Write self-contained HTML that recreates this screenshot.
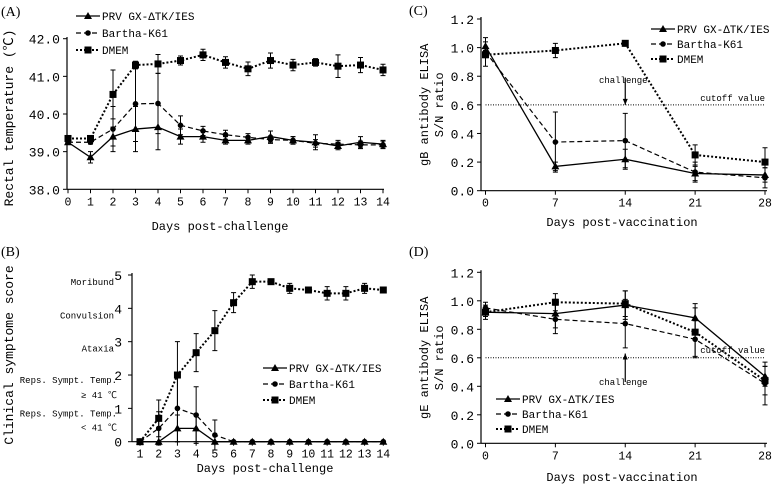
<!DOCTYPE html>
<html><head><meta charset="utf-8"><style>
html,body{margin:0;padding:0;background:#fff;}
svg{display:block;font-family:"Liberation Mono","Noto Sans CJK SC",monospace;}
</style></head><body>
<svg id="fig" width="774" height="485" viewBox="0 0 774 485" xmlns="http://www.w3.org/2000/svg"></svg>
<script>
// Panel A
const daysA=[0,1,2,3,4,5,6,7,8,9,10,11,12,13,14];
const prvA=[39.25,38.85,39.4,39.6,39.65,39.4,39.4,39.3,39.3,39.4,39.3,39.25,39.15,39.25,39.2];
const prvAErr=[0.05,0.15,0.25,0.6,0.6,0.2,0.15,0.1,0.1,0.15,0.1,0.2,0.1,0.15,0.1];
const barA=[39.25,39.25,39.6,40.27,40.28,39.7,39.55,39.45,39.38,39.32,39.3,39.22,39.2,39.18,39.18];
const barAErr=[0.05,0.05,0.6,1.0,0.8,0.25,0.12,0.12,0.1,0.1,0.1,0.1,0.1,0.1,0.1];
const dmemA=[39.35,39.35,40.52,41.3,41.33,41.42,41.57,41.37,41.2,41.42,41.3,41.37,41.27,41.3,41.17];
const dmemAErr=[0.05,0.05,0.65,0.1,0.25,0.12,0.15,0.15,0.18,0.2,0.15,0.1,0.3,0.2,0.15];
const ticksAY=["38.0","39.0","40.0","41.0","42.0"];
// Panel B
const daysB=[1,2,3,4,5,6,7,8,9,10,11,12,13,14];
const prvB=[0,0,0.4,0.4,0,0,0,0,0,0,0,0,0,0];
const prvBErr=[0,0,0.4,0.4,0,0,0,0,0,0,0,0,0,0];
const barB=[0,0.4,1.0,0.8,0.2,0,0,0,0,0,0,0,0,0];
const barBErr=[0,0.5,1.0,0.85,0.45,0,0,0,0,0,0,0,0,0];
const dmemB=[0,0.7,2.0,2.67,3.33,4.17,4.8,4.8,4.6,4.55,4.45,4.45,4.6,4.55];
const dmemBErr=[0,0.55,1.0,0.57,0.6,0.3,0.2,0,0.15,0,0.2,0.2,0.15,0];
const ticksBY=["0","1","2","3","4","5"];
// Panel C
const daysC=[0,7,14,21,28];
const prvC=[1.01,0.17,0.22,0.12,0.11];
const prvCErr=[0.03,0.03,0.07,0.05,0.05];
const barC=[0.97,0.34,0.35,0.13,0.09];
const barCErr=[0.1,0.21,0.19,0.07,0.07];
const dmemC=[0.95,0.98,1.03,0.25,0.2];
const dmemCErr=[0.02,0.05,0.02,0.07,0.1];
// Panel D
const prvD=[0.92,0.91,0.97,0.88,0.47];
const prvDErr=[0.03,0.1,0.1,0.1,0.07];
const barD=[0.95,0.87,0.84,0.73,0.42];
const barDErr=[0.04,0.1,0.17,0.13,0.15];
const dmemD=[0.92,0.99,0.98,0.78,0.44];
const dmemDErr=[0.05,0.06,0.09,0.17,0.1];
const ticksCY=["0.0","0.2","0.4","0.6","0.8","1.0","1.2"];
const cutoff=0.6;

const NS="http://www.w3.org/2000/svg";
const svg=document.getElementById('fig');
function mk(tag,attrs,parent,txt){const e=document.createElementNS(NS,tag);for(const k in attrs)e.setAttribute(k,attrs[k]);if(txt!==undefined)e.textContent=txt;(parent||svg).appendChild(e);return e;}
const STY={prv:{dash:"",w:1.3},bar:{dash:"5,3",w:1.2},dmem:{dash:"2,2",w:2}};
function marker(g,kind,x,y){
  let m;
  if(kind==='prv'){m=mk('polygon',{points:`${x},${y-4} ${x-4},${y+3} ${x+4},${y+3}`,fill:'#000'},g);}
  else if(kind==='bar'){m=mk('circle',{cx:x,cy:y,r:2.8,fill:'#000'},g);}
  else {m=mk('rect',{x:x-3.5,y:y-3.5,width:7,height:7,fill:'#000'},g);}
  
  
}
function series(g,kind,xs,ys,errs,sx,sy){
  const pts=xs.map((d,i)=>sx(d)+','+sy(ys[i])).join(' ');
  const pl=mk('polyline',{points:pts,fill:'none',stroke:'#000','stroke-width':STY[kind].w,'stroke-dasharray':STY[kind].dash},g);
  
  
  xs.forEach((d,i)=>{
    const x=sx(d);
    if(errs[i]>0){
      const y1=sy(ys[i]+errs[i]),y2=sy(ys[i]-errs[i]);
      const eb=mk('path',{d:`M${x},${y1}V${y2}M${x-2.5},${y1}H${x+2.5}M${x-2.5},${y2}H${x+2.5}`,stroke:'#000','stroke-width':1,fill:'none'},g);
      
      
    }
    marker(g,kind,x,sy(ys[i]));
  });
}
function legend(g,x,y,dy){
  const items=[['prv','PRV GX-ΔTK/IES'],['bar','Bartha-K61'],['dmem','DMEM']];
  items.forEach((it,i)=>{
    const yy=y+i*dy;
    const l=mk('line',{x1:x,x2:x+24,y1:yy,y2:yy,stroke:'#000','stroke-width':STY[it[0]].w,'stroke-dasharray':STY[it[0]].dash},g);
    
    
    marker(g,it[0],x+12,yy);
    const t=mk('text',{x:x+26,y:yy+4,'font-size':11},g,it[1]);
    
    
  });
}
function axes(g,o){
  const ax=mk('path',{d:`M${o.axX},${o.y0}V${o.y1}M${o.axX},${o.y0}H${o.x1}`,stroke:'#000','stroke-width':1.2,fill:'none'},g);
  
  
  o.yt.forEach((lab,i)=>{
    const v=o.yv[i],y=o.sy(v);
    mk('line',{x1:o.axX-4,x2:o.axX,y1:y,y2:y,stroke:'#000'},g);
    const t=mk('text',{x:o.ylx!==undefined?o.ylx:o.axX-7,y:y+5,'text-anchor':'end','font-size':13},g,lab);
    
    
  });
  o.xv.forEach(v=>{
    const x=o.sx(v);
    mk('line',{x1:x,x2:x,y1:o.y0,y2:o.y0+4,stroke:'#000'},g);
    const t=mk('text',{x:x,y:o.y0+16,'text-anchor':'middle','font-size':11.5},g,String(v));
    
    
  });
}
function lin(d0,d1,r0,r1){return v=>r0+(v-d0)*(r1-r0)/(d1-d0);}
function txt(g,name,attrs,s){const t=mk('text',attrs,g,s);return t;}

// ---- Panel A
{
  const g=mk('g',{});
  const sx=lin(0,14,68,383),sy=lin(38,42,189.3,38.7);
  axes(g,{axX:67,y0:189.3,y1:37,x1:384,sx,sy,yt:ticksAY,yv:[38,39,40,41,42],xv:daysA});
  series(g,'prv',daysA,prvA,prvAErr,sx,sy);
  series(g,'bar',daysA,barA,barAErr,sx,sy);
  series(g,'dmem',daysA,dmemA,dmemAErr,sx,sy);
  legend(g,76,16,17);
  txt(g,'panel-label-a',{x:1,y:16,'font-size':14,'font-family':'Liberation Serif,serif'},'(A)');
  txt(g,'x-axis-title-a',{x:220,y:230,'text-anchor':'middle','font-size':12},'Days post-challenge');
  txt(g,'y-axis-title-a',{x:0,y:0,'text-anchor':'middle','font-size':13,transform:'translate(13,118) rotate(-90)'},'Rectal temperature (℃)');
}
// ---- Panel B
{
  const g=mk('g',{});
  const sx=lin(1,14,140,383.3),sy=lin(0,5,441.7,275);
  axes(g,{axX:132,y0:441.7,y1:273,x1:384,sx,sy,yt:ticksBY,yv:[0,1,2,3,4,5],xv:daysB,ylx:122});
  series(g,'prv',daysB,prvB,prvBErr,sx,sy);
  series(g,'bar',daysB,barB,barBErr,sx,sy);
  series(g,'dmem',daysB,dmemB,dmemBErr,sx,sy);
  legend(g,263,368,16);
  const cats=[[5,'Moribund'],[4,'Convulsion'],[3,'Ataxia']];
  cats.forEach(c=>txt(g,'y-category-label',{x:114,y:sy(c[0])+10,'text-anchor':'end','font-size':9},c[1]));
  txt(g,'y-category-label',{x:117,y:sy(2)+8,'text-anchor':'end','font-size':9},'Reps. Sympt. Temp.');
  txt(g,'y-category-label',{x:117,y:sy(2)+23,'text-anchor':'end','font-size':9},'≥ 41 ℃');
  txt(g,'y-category-label',{x:117,y:sy(1)+8,'text-anchor':'end','font-size':9},'Reps. Sympt. Temp.');
  txt(g,'y-category-label',{x:117,y:sy(1)+22,'text-anchor':'end','font-size':9},'< 41 ℃');
  txt(g,'panel-label-b',{x:1,y:256,'font-size':14,'font-family':'Liberation Serif,serif'},'(B)');
  txt(g,'x-axis-title-b',{x:265,y:472,'text-anchor':'middle','font-size':12},'Days post-challenge');
  txt(g,'y-axis-title-b',{x:0,y:0,'text-anchor':'middle','font-size':13,transform:'translate(13,355) rotate(-90)'},'Clinical symptome score');
}
// ---- Panels C & D
function elisaPanel(id,top,prv,pe,bar,be,dm,de,legY,label,ytitle,chY,chFrom,chTo,cutY){
  const g=mk('g',{});
  const y0=top.y0,y1=top.y1;
  const sx=lin(0,28,485.5,765),sy=lin(0,1.2,y0,y1);
  axes(g,{axX:481,y0:y0,y1:y1-2,x1:767,sx,sy,yt:ticksCY,yv:[0,0.2,0.4,0.6,0.8,1.0,1.2],xv:daysC});
  const cl=mk('line',{x1:sx(0),x2:sx(28),y1:sy(cutoff),y2:sy(cutoff),stroke:'#000','stroke-width':1,'stroke-dasharray':'1,1.5'},g);
  
  txt(g,'cutoff-label',{x:765,y:cutY,'text-anchor':'end','font-size':9},'cutoff value');
  const ax=sx(14);
  const ar=mk('path',{d:`M${ax},${sy(chFrom)}L${ax},${sy(chTo)}`,stroke:'#000','stroke-width':1.2},g);
  
  const dir=chTo<chFrom?1:-1,ty=sy(chTo);
  mk('polygon',{points:`${ax},${ty} ${ax-2.5},${ty-6*dir} ${ax+2.5},${ty-6*dir}`,fill:'#000'},g);
  txt(g,'challenge-label',{x:ax-2,y:chY,'text-anchor':'middle','font-size':9},'challenge');
  series(g,'prv',daysC,prv,pe,sx,sy);
  series(g,'bar',daysC,bar,be,sx,sy);
  series(g,'dmem',daysC,dm,de,sx,sy);
  legend(g,legY[0],legY[1],15);
  txt(g,'panel-label-'+id,{x:409,y:top.lab,'font-size':14,'font-family':'Liberation Serif,serif'},label);
  txt(g,'x-axis-title-'+id,{x:622,y:top.xt,'text-anchor':'middle','font-size':12},'Days post-vaccination');
  const cy=(y0+y1)/2;
  txt(g,'y-axis-title-'+id,{x:0,y:0,'text-anchor':'middle','font-size':12,transform:`translate(428,${cy}) rotate(-90)`},ytitle);
  txt(g,'y-axis-title-'+id+'-2',{x:0,y:0,'text-anchor':'middle','font-size':12,transform:`translate(443,${cy}) rotate(-90)`},'S/N ratio');
}
elisaPanel('c',{y0:190.7,y1:19,lab:15,xt:226},prvC,prvCErr,barC,barCErr,dmemC,dmemCErr,[651,29],'(C)','gB antibody ELISA',83,0.79,0.6,101);
elisaPanel('d',{y0:443.3,y1:272.3,lab:256,xt:481},prvD,prvDErr,barD,barDErr,dmemD,dmemDErr,[496,399],'(D)','gE antibody ELISA',385,0.43,0.63,353);
</script>
</body></html>
